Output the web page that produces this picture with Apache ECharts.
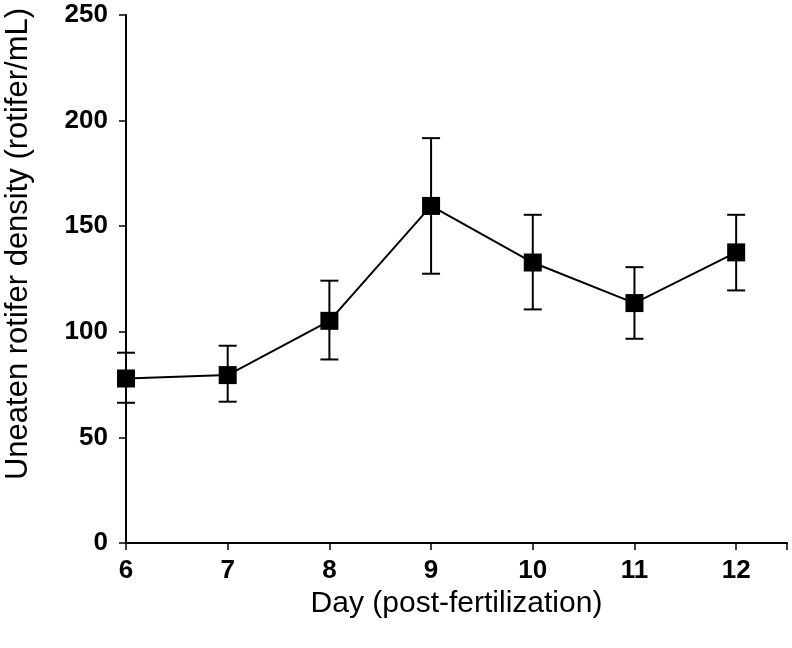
<!DOCTYPE html>
<html><head><meta charset="utf-8">
<script src="https://cdn.jsdelivr.net/npm/echarts@6/dist/echarts.min.js"></script>
<style>html,body{margin:0;padding:0;background:#fff}#c{width:792px;height:648px}</style>
</head><body><div id="c"></div>
<script>
const days = [6, 7, 8, 9, 10, 11, 12];
const means = [77.9, 79.5, 105.2, 159.6, 132.8, 113.6, 137.6];
const errLow = [66.4, 66.9, 86.9, 127.5, 110.6, 96.7, 119.6];
const errHigh = [90.1, 93.4, 124.2, 191.7, 155.4, 130.6, 155.4];
const yTicks = [0, 50, 100, 150, 200, 250];
const xTitle = 'Day (post-fertilization)';
const yTitle = 'Uneaten rotifer density (rotifer/mL)';

const chart = echarts.init(document.getElementById('c'), null, {renderer: 'canvas'});
const font = 'Liberation Sans, Arial, sans-serif';
chart.setOption({
  animation: false,
  grid: {left: 126, right: 5, top: 15, bottom: 105, containLabel: false, outerBoundsMode: 'none'},
  xAxis: {
    type: 'value', min: 6, max: 12.5, interval: 1,
    axisLine: {lineStyle: {color: '#000', width: 2}},
    axisTick: {show: true, length: 7, lineStyle: {color: '#000', width: 1.5}},
    splitLine: {show: false},
    axisLabel: {color: '#000', fontFamily: font, fontWeight: 'bold', fontSize: 26, margin: 15,
      formatter: v => (Number.isInteger(v) && v <= 12) ? String(v) : ''},
    name: xTitle, nameLocation: 'middle', nameGap: 44,
    nameTextStyle: {color: '#000', fontFamily: font, fontSize: 30, verticalAlign: 'top'}
  },
  yAxis: {
    type: 'value', min: 0, max: 250, interval: 50,
    axisLine: {show: true, lineStyle: {color: '#000', width: 2}},
    axisTick: {show: true, length: 7, lineStyle: {color: '#000', width: 1.5}},
    splitLine: {show: false},
    axisLabel: {color: '#000', fontFamily: font, fontWeight: 'bold', fontSize: 26, margin: 18,
      formatter: v => yTicks.includes(v) ? String(v) : ''},
    name: yTitle, nameLocation: 'middle', nameGap: 92,
    nameTextStyle: {color: '#000', fontFamily: font, fontSize: 31, verticalAlign: 'bottom', padding: [0, 0, 0, 70]}
  },
  series: [
    {
      type: 'custom',
      data: days.map((d, i) => [d, errLow[i], errHigh[i]]),
      renderItem: function (params, api) {
        const x = api.value(0);
        const lo = api.coord([x, api.value(1)]);
        const hi = api.coord([x, api.value(2)]);
        const hw = 9;
        const st = {stroke: '#000', lineWidth: 2};
        return {type: 'group', children: [
          {type: 'line', shape: {x1: lo[0], y1: lo[1], x2: hi[0], y2: hi[1]}, style: st},
          {type: 'line', shape: {x1: lo[0] - hw, y1: lo[1], x2: lo[0] + hw, y2: lo[1]}, style: st},
          {type: 'line', shape: {x1: hi[0] - hw, y1: hi[1], x2: hi[0] + hw, y2: hi[1]}, style: st}
        ]};
      },
      z: 1
    },
    {
      type: 'line',
      data: days.map((d, i) => [d, means[i]]),
      symbol: 'rect', symbolSize: 18,
      itemStyle: {color: '#000'},
      lineStyle: {color: '#000', width: 2},
      z: 2
    }
  ]
});
</script></body></html>
